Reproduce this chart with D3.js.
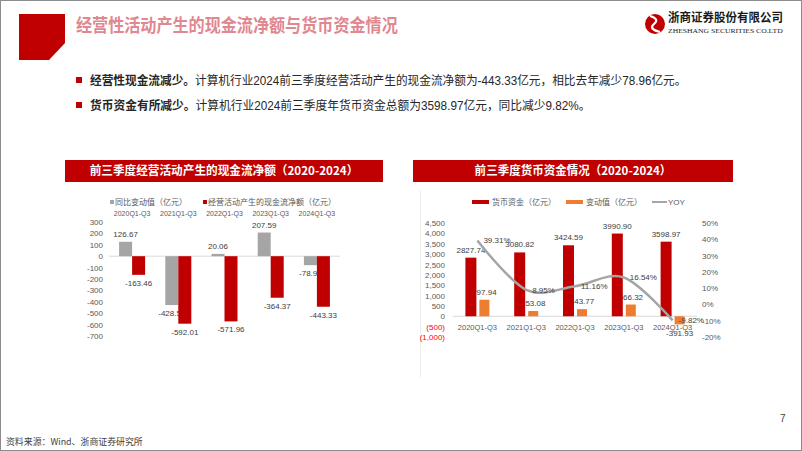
<!DOCTYPE html>
<html>
<head>
<meta charset="utf-8">
<script src="https://cdn.jsdelivr.net/npm/d3@7"></script>
<style>
body { margin: 0; background: #fff; }
svg { display: block; font-family: "Liberation Sans", "Noto Sans CJK SC", sans-serif; }
.axis .domain { display: none; }
.axis text { fill: #595959; }
.lbl { fill: #404040; font-size: 8px; }
</style>
</head>
<body>
<svg id="chart" width="802" height="451"></svg>
<script>
// data
var periods = ["2020Q1-Q3", "2021Q1-Q3", "2022Q1-Q3", "2023Q1-Q3", "2024Q1-Q3"];
var cashChange = [126.67, -428.55, 20.06, 207.59, -78.96];
var cashFlow = [-163.46, -592.01, -571.96, -364.37, -443.33];
var cashTicks = [300, 200, 100, 0, -100, -200, -300, -400, -500, -600, -700];

var funds = [2827.74, 3080.82, 3424.59, 3990.90, 3598.97];
var fundChange = [797.94, 253.08, 343.77, 566.32, -391.93];
var yoy = [0.3931, 0.0895, 0.1116, 0.1654, -0.0982];
var fundTicks = [4500, 4000, 3500, 3000, 2500, 2000, 1500, 1000, 500, 0, -500, -1000];
var yoyTicks = [0.5, 0.4, 0.3, 0.2, 0.1, 0, -0.1, -0.2];

var RED = "#c00000", GRAY = "#a5a5a5", ORANGE = "#ed7d31";

var svg = d3.select("#chart");

// d3.format writes a typographic minus, the slide uses a plain hyphen
function hy(f) { return function(d) { return f(d).replace("\u2212", "-"); }; }
var f2 = hy(d3.format(".2f"));
var pct0 = hy(d3.format(".0%"));
var pct2 = hy(d3.format(".2%"));

// squeeze or stretch a text to a given width
function fit(sel, w) {
	sel.each(function() {
		var t = d3.select(this), x0 = +t.attr("x");
		var k = w / this.getComputedTextLength();
		t.attr("transform", "translate(" + x0 + ",0) scale(" + k + ",1) translate(" + (-x0) + ",0)");
	});
}

// page frame
svg.append("rect").attr("x", 0.5).attr("y", 0.5).attr("width", 801).attr("height", 450)
	.attr("fill", "none").attr("stroke", "#8c8c8c");

// header
svg.append("path").attr("d", "M19,14H65V43L49,60H19Z").attr("fill", RED);
svg.append("text").attr("x", 76).attr("y", 32)
	.attr("font-family", "Noto Sans CJK SC").attr("font-weight", "bold").attr("font-size", 18)
	.attr("fill", "#e08790").text("经营性活动产生的现金流净额与货币资金情况")
	.call(fit, 322);

// logo
svg.append("circle").attr("cx", 655).attr("cy", 24).attr("r", 10).attr("fill", RED);
svg.append("path").attr("d", "M650,16 Q660,19 654,24 Q648,29 660,32")
	.attr("fill", "none").attr("stroke", "#fff").attr("stroke-width", 2.2);
svg.append("text").attr("x", 668).attr("y", 22)
	.attr("font-family", "Noto Sans CJK SC").attr("font-weight", "bold").attr("font-size", 12)
	.attr("fill", "#1a1a1a").text("浙商证券股份有限公司").call(fit, 115);
svg.append("text").attr("x", 668).attr("y", 33)
	.attr("font-family", "Liberation Serif").attr("font-size", 7)
	.attr("fill", "#1a1a1a").text("ZHESHANG SECURITIES CO.LTD").call(fit, 115);

// bullets
var bullets = [
	{y: 85, b: "经营性现金流减少。", t: "计算机行业2024前三季度经营活动产生的现金流净额为-443.33亿元，相比去年减少78.96亿元。", w: 597},
	{y: 110, b: "货币资金有所减少。", t: "计算机行业2024前三季度年货币资金总额为3598.97亿元，同比减少9.82%。", w: 501}
];
bullets.forEach(function(d) {
	svg.append("rect").attr("x", 76).attr("y", d.y - 8).attr("width", 6).attr("height", 6).attr("fill", RED);
	var t = svg.append("text").attr("x", 90).attr("y", d.y).attr("font-size", 12).attr("fill", "#262626")
		.attr("font-family", "Liberation Sans, Noto Sans CJK SC");
	t.append("tspan").attr("font-weight", "bold").attr("font-family", "Noto Sans CJK SC").text(d.b);
	t.append("tspan").text(d.t);
	t.call(fit, d.w);
});

// title bands
function band(x, w, label, tw) {
	svg.append("rect").attr("x", x).attr("y", 160).attr("width", w).attr("height", 22).attr("fill", RED);
	svg.append("text").attr("x", x + w / 2).attr("y", 175.5).attr("text-anchor", "middle")
		.attr("font-family", "Noto Sans CJK SC").attr("font-weight", "bold").attr("font-size", 12)
		.attr("fill", "#fff").text(label).call(fit, tw);
}
band(65, 318, "前三季度经营活动产生的现金流净额（2020-2024）", 269);
band(413, 320, "前三季度货币资金情况（2020-2024）", 197);

// ---------- left chart ----------
var x1 = d3.scaleBand().domain(periods).range([109, 340]);
var y1 = d3.scaleLinear().domain([-700, 300]).range([336, 222]);
var bw1 = 13;

var leg1 = svg.append("g").attr("font-size", 8).attr("fill", "#595959");
leg1.append("rect").attr("x", 110).attr("y", 200).attr("width", 4).attr("height", 4).attr("fill", GRAY);
leg1.append("text").attr("x", 115).attr("y", 205).text("同比变动值（亿元）");
leg1.append("rect").attr("x", 203).attr("y", 200).attr("width", 4).attr("height", 4).attr("fill", RED);
leg1.append("text").attr("x", 208).attr("y", 205).text("经营活动产生的现金流净额（亿元）");

svg.append("g").attr("class", "axis").attr("transform", "translate(0,216)")
	.call(d3.axisTop(x1).tickSize(0).tickPadding(0))
	.selectAll("text").attr("font-size", 7);

svg.append("g").attr("class", "axis").attr("transform", "translate(106,0)")
	.call(d3.axisLeft(y1).tickValues(cashTicks).tickFormat(hy(d3.format("d"))).tickSize(0).tickPadding(3))
	.selectAll("text").attr("font-size", 8);

svg.append("line").attr("x1", 109).attr("x2", 340).attr("y1", y1(0)).attr("y2", y1(0))
	.attr("stroke", "#d9d9d9");

function cx1(i) { return x1(periods[i]) + x1.bandwidth() / 2; }

svg.selectAll(".bar-chg").data(cashChange).enter().append("rect")
	.attr("class", "bar-chg")
	.attr("x", function(d, i) { return cx1(i) - bw1; })
	.attr("y", function(d) { return y1(Math.max(0, d)); })
	.attr("width", bw1)
	.attr("height", function(d) { return Math.abs(y1(d) - y1(0)); })
	.attr("fill", GRAY);

svg.selectAll(".lbl-chg").data(cashChange).enter().append("text")
	.attr("class", "lbl").attr("text-anchor", "middle")
	.attr("x", function(d, i) { return cx1(i) - bw1 / 2; })
	.attr("y", function(d) { return d >= 0 ? y1(d) - 5 : y1(d) + 11; })
	.text(f2);

svg.selectAll(".bar-cf").data(cashFlow).enter().append("rect")
	.attr("class", "bar-cf")
	.attr("x", function(d, i) { return cx1(i); })
	.attr("y", function(d) { return y1(Math.max(0, d)); })
	.attr("width", bw1)
	.attr("height", function(d) { return Math.abs(y1(d) - y1(0)); })
	.attr("fill", RED);

svg.selectAll(".lbl-cf").data(cashFlow).enter().append("text")
	.attr("class", "lbl").attr("text-anchor", "middle")
	.attr("x", function(d, i) { return cx1(i) + bw1 / 2; })
	.attr("y", function(d) { return y1(d) + 11; })
	.text(f2);

// ---------- right chart ----------
svg.append("line").attr("x1", 420.5).attr("x2", 420.5).attr("y1", 190).attr("y2", 377)
	.attr("stroke", "#ececec");

var x2 = d3.scaleBand().domain(periods).range([453, 697]);
var yL = d3.scaleLinear().domain([-1000, 4500]).range([337, 223]);
var yR = d3.scaleLinear().domain([-0.2, 0.5]).range([337, 223]);
function cx2(i) { return x2(periods[i]) + x2.bandwidth() / 2; }

var leg2 = svg.append("g").attr("font-size", 8).attr("fill", "#595959");
leg2.append("rect").attr("x", 472).attr("y", 200).attr("width", 17).attr("height", 4).attr("fill", RED);
leg2.append("text").attr("x", 492).attr("y", 205).text("货币资金（亿元）");
leg2.append("rect").attr("x", 566).attr("y", 200).attr("width", 17).attr("height", 4).attr("fill", ORANGE);
leg2.append("text").attr("x", 586).attr("y", 205).text("变动值（亿元）");
leg2.append("line").attr("x1", 652).attr("x2", 667).attr("y1", 202).attr("y2", 202)
	.attr("stroke", GRAY).attr("stroke-width", 2);
leg2.append("text").attr("x", 668).attr("y", 205).text("YOY");

var fmtL = function(d) { return d < 0 ? "(" + d3.format(",")(-d) + ")" : d3.format(",")(d); };
svg.append("g").attr("class", "axis").attr("transform", "translate(448,0)")
	.call(d3.axisLeft(yL).tickValues(fundTicks).tickFormat(fmtL).tickSize(0).tickPadding(3))
	.selectAll("text").attr("font-size", 8)
	.style("fill", function(d) { return d < 0 ? "#ff0000" : null; });

svg.append("g").attr("class", "axis").attr("transform", "translate(700,0)")
	.call(d3.axisRight(yR).tickValues(yoyTicks).tickFormat(pct0).tickSize(0).tickPadding(2))
	.selectAll("text").attr("font-size", 8);

svg.append("line").attr("x1", 453).attr("x2", 697).attr("y1", yL(0)).attr("y2", yL(0))
	.attr("stroke", "#d9d9d9");

svg.append("g").attr("class", "axis").attr("transform", "translate(0," + yL(0) + ")")
	.call(d3.axisBottom(x2).tickSize(0).tickPadding(8))
	.selectAll("text").attr("font-size", 7.5);

svg.selectAll(".bar-fc").data(fundChange).enter().append("rect")
	.attr("class", "bar-fc")
	.attr("x", function(d, i) { return cx2(i) + 2; })
	.attr("y", function(d) { return yL(Math.max(0, d)); })
	.attr("width", 10)
	.attr("height", function(d) { return Math.abs(yL(d) - yL(0)); })
	.attr("fill", ORANGE);

svg.selectAll(".lbl-fc").data(fundChange).enter().append("text")
	.attr("class", "lbl").attr("text-anchor", "middle")
	.attr("x", function(d, i) { return cx2(i) + 7; })
	.attr("y", function(d) { return d >= 0 ? yL(d) - 5 : yL(d) + 12; })
	.text(f2);

svg.selectAll(".bar-f").data(funds).enter().append("rect")
	.attr("class", "bar-f")
	.attr("x", function(d, i) { return cx2(i) - 12; })
	.attr("y", function(d) { return yL(d); })
	.attr("width", 11)
	.attr("height", function(d) { return yL(0) - yL(d); })
	.attr("fill", RED);

svg.selectAll(".lbl-f").data(funds).enter().append("text")
	.attr("class", "lbl").attr("text-anchor", "middle")
	.attr("x", function(d, i) { return cx2(i) - 6.5; })
	.attr("y", function(d) { return yL(d) - 5; })
	.text(f2);

var line = d3.line()
	.x(function(d, i) { return cx2(i); })
	.y(function(d) { return yR(d); })
	.curve(d3.curveCardinal);
svg.append("path").datum(yoy).attr("d", line)
	.attr("fill", "none").attr("stroke", GRAY).attr("stroke-width", 2.5);

svg.selectAll(".lbl-yoy").data(yoy).enter().append("text")
	.attr("class", "lbl")
	.attr("x", function(d, i) { return cx2(i) + 6; })
	.attr("y", function(d) { return yR(d) + 3; })
	.text(pct2);

// footer
svg.append("text").attr("x", 780).attr("y", 422).attr("font-size", 10).attr("fill", "#404040").text("7");
svg.append("text").attr("x", 6).attr("y", 445).attr("font-size", 9).attr("fill", "#404040")
	.attr("font-family", "Noto Sans CJK SC").text("资料来源：Wind、浙商证券研究所").call(fit, 137);
</script>
</body>
</html>
